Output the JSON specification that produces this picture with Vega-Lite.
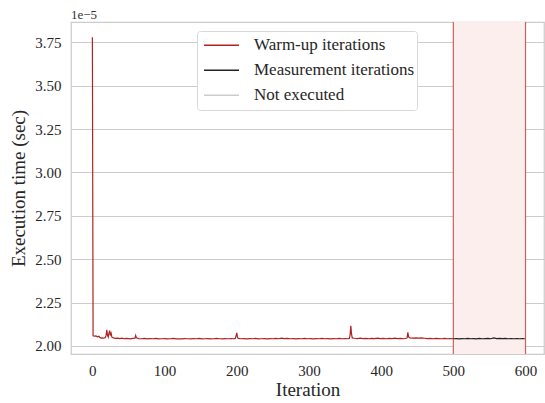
{
  "$schema": "https://vega.github.io/schema/vega-lite/v6.json",
  "width": 473,
  "height": 332,
  "autosize": {"type": "none"},
  "padding": {"left": 71, "top": 22, "right": 1, "bottom": 49},
  "background": "white",
  "title": {"text": "1e\u22125", "anchor": "start", "frame": "group", "font": "Liberation Serif", "fontSize": 13, "fontWeight": "normal", "color": "#333333", "offset": -1},
  "config": {
    "view": {"stroke": "#cccccc", "strokeWidth": 1.25},
    "font": "Liberation Serif",
    "axis": {"labelFont": "Liberation Serif", "titleFont": "Liberation Serif", "labelColor": "#262626", "titleColor": "#262626", "titleFontWeight": "normal", "domain": false, "ticks": false, "gridColor": "#cccccc", "gridWidth": 1},
    "legend": {"labelFont": "Liberation Serif"}
  },
  "datasets": {
    "series": [
      {"it": 0, "t": 3.78, "phase": "Warm-up iterations"},
      {"it": 1, "t": 2.058, "phase": "Warm-up iterations"},
      {"it": 3, "t": 2.056, "phase": "Warm-up iterations"},
      {"it": 5, "t": 2.057, "phase": "Warm-up iterations"},
      {"it": 7, "t": 2.052, "phase": "Warm-up iterations"},
      {"it": 9, "t": 2.055, "phase": "Warm-up iterations"},
      {"it": 10, "t": 2.050, "phase": "Warm-up iterations"},
      {"it": 12, "t": 2.045, "phase": "Warm-up iterations"},
      {"it": 14, "t": 2.046, "phase": "Warm-up iterations"},
      {"it": 16, "t": 2.044, "phase": "Warm-up iterations"},
      {"it": 18, "t": 2.048, "phase": "Warm-up iterations"},
      {"it": 19, "t": 2.060, "phase": "Warm-up iterations"},
      {"it": 20, "t": 2.092, "phase": "Warm-up iterations"},
      {"it": 21, "t": 2.060, "phase": "Warm-up iterations"},
      {"it": 22, "t": 2.050, "phase": "Warm-up iterations"},
      {"it": 23, "t": 2.075, "phase": "Warm-up iterations"},
      {"it": 24, "t": 2.088, "phase": "Warm-up iterations"},
      {"it": 25, "t": 2.060, "phase": "Warm-up iterations"},
      {"it": 26, "t": 2.072, "phase": "Warm-up iterations"},
      {"it": 27, "t": 2.050, "phase": "Warm-up iterations"},
      {"it": 29, "t": 2.046, "phase": "Warm-up iterations"},
      {"it": 32, "t": 2.043, "phase": "Warm-up iterations"},
      {"it": 35, "t": 2.045, "phase": "Warm-up iterations"},
      {"it": 38, "t": 2.042, "phase": "Warm-up iterations"},
      {"it": 41, "t": 2.044, "phase": "Warm-up iterations"},
      {"it": 44, "t": 2.041, "phase": "Warm-up iterations"},
      {"it": 47, "t": 2.043, "phase": "Warm-up iterations"},
      {"it": 50, "t": 2.042, "phase": "Warm-up iterations"},
      {"it": 53, "t": 2.040, "phase": "Warm-up iterations"},
      {"it": 56, "t": 2.043, "phase": "Warm-up iterations"},
      {"it": 59, "t": 2.044, "phase": "Warm-up iterations"},
      {"it": 60, "t": 2.060, "phase": "Warm-up iterations"},
      {"it": 61, "t": 2.046, "phase": "Warm-up iterations"},
      {"it": 64, "t": 2.042, "phase": "Warm-up iterations"},
      {"it": 68, "t": 2.041, "phase": "Warm-up iterations"},
      {"it": 72, "t": 2.043, "phase": "Warm-up iterations"},
      {"it": 76, "t": 2.040, "phase": "Warm-up iterations"},
      {"it": 80, "t": 2.042, "phase": "Warm-up iterations"},
      {"it": 84, "t": 2.041, "phase": "Warm-up iterations"},
      {"it": 88, "t": 2.043, "phase": "Warm-up iterations"},
      {"it": 92, "t": 2.040, "phase": "Warm-up iterations"},
      {"it": 96, "t": 2.041, "phase": "Warm-up iterations"},
      {"it": 100, "t": 2.042, "phase": "Warm-up iterations"},
      {"it": 104, "t": 2.040, "phase": "Warm-up iterations"},
      {"it": 108, "t": 2.041, "phase": "Warm-up iterations"},
      {"it": 112, "t": 2.043, "phase": "Warm-up iterations"},
      {"it": 116, "t": 2.040, "phase": "Warm-up iterations"},
      {"it": 120, "t": 2.041, "phase": "Warm-up iterations"},
      {"it": 124, "t": 2.040, "phase": "Warm-up iterations"},
      {"it": 128, "t": 2.042, "phase": "Warm-up iterations"},
      {"it": 132, "t": 2.041, "phase": "Warm-up iterations"},
      {"it": 136, "t": 2.040, "phase": "Warm-up iterations"},
      {"it": 140, "t": 2.042, "phase": "Warm-up iterations"},
      {"it": 144, "t": 2.041, "phase": "Warm-up iterations"},
      {"it": 148, "t": 2.043, "phase": "Warm-up iterations"},
      {"it": 152, "t": 2.040, "phase": "Warm-up iterations"},
      {"it": 156, "t": 2.041, "phase": "Warm-up iterations"},
      {"it": 160, "t": 2.042, "phase": "Warm-up iterations"},
      {"it": 164, "t": 2.040, "phase": "Warm-up iterations"},
      {"it": 168, "t": 2.041, "phase": "Warm-up iterations"},
      {"it": 172, "t": 2.043, "phase": "Warm-up iterations"},
      {"it": 176, "t": 2.041, "phase": "Warm-up iterations"},
      {"it": 180, "t": 2.040, "phase": "Warm-up iterations"},
      {"it": 184, "t": 2.042, "phase": "Warm-up iterations"},
      {"it": 188, "t": 2.041, "phase": "Warm-up iterations"},
      {"it": 192, "t": 2.042, "phase": "Warm-up iterations"},
      {"it": 196, "t": 2.041, "phase": "Warm-up iterations"},
      {"it": 198, "t": 2.043, "phase": "Warm-up iterations"},
      {"it": 199, "t": 2.058, "phase": "Warm-up iterations"},
      {"it": 200, "t": 2.075, "phase": "Warm-up iterations"},
      {"it": 201, "t": 2.050, "phase": "Warm-up iterations"},
      {"it": 202, "t": 2.043, "phase": "Warm-up iterations"},
      {"it": 206, "t": 2.041, "phase": "Warm-up iterations"},
      {"it": 210, "t": 2.042, "phase": "Warm-up iterations"},
      {"it": 214, "t": 2.040, "phase": "Warm-up iterations"},
      {"it": 218, "t": 2.042, "phase": "Warm-up iterations"},
      {"it": 222, "t": 2.041, "phase": "Warm-up iterations"},
      {"it": 226, "t": 2.043, "phase": "Warm-up iterations"},
      {"it": 230, "t": 2.040, "phase": "Warm-up iterations"},
      {"it": 234, "t": 2.041, "phase": "Warm-up iterations"},
      {"it": 238, "t": 2.042, "phase": "Warm-up iterations"},
      {"it": 242, "t": 2.040, "phase": "Warm-up iterations"},
      {"it": 246, "t": 2.042, "phase": "Warm-up iterations"},
      {"it": 250, "t": 2.041, "phase": "Warm-up iterations"},
      {"it": 254, "t": 2.043, "phase": "Warm-up iterations"},
      {"it": 258, "t": 2.041, "phase": "Warm-up iterations"},
      {"it": 262, "t": 2.044, "phase": "Warm-up iterations"},
      {"it": 266, "t": 2.042, "phase": "Warm-up iterations"},
      {"it": 270, "t": 2.043, "phase": "Warm-up iterations"},
      {"it": 274, "t": 2.041, "phase": "Warm-up iterations"},
      {"it": 278, "t": 2.042, "phase": "Warm-up iterations"},
      {"it": 282, "t": 2.040, "phase": "Warm-up iterations"},
      {"it": 286, "t": 2.042, "phase": "Warm-up iterations"},
      {"it": 290, "t": 2.041, "phase": "Warm-up iterations"},
      {"it": 294, "t": 2.043, "phase": "Warm-up iterations"},
      {"it": 298, "t": 2.041, "phase": "Warm-up iterations"},
      {"it": 302, "t": 2.042, "phase": "Warm-up iterations"},
      {"it": 306, "t": 2.040, "phase": "Warm-up iterations"},
      {"it": 310, "t": 2.042, "phase": "Warm-up iterations"},
      {"it": 314, "t": 2.041, "phase": "Warm-up iterations"},
      {"it": 318, "t": 2.043, "phase": "Warm-up iterations"},
      {"it": 322, "t": 2.041, "phase": "Warm-up iterations"},
      {"it": 326, "t": 2.042, "phase": "Warm-up iterations"},
      {"it": 330, "t": 2.040, "phase": "Warm-up iterations"},
      {"it": 334, "t": 2.042, "phase": "Warm-up iterations"},
      {"it": 338, "t": 2.041, "phase": "Warm-up iterations"},
      {"it": 342, "t": 2.043, "phase": "Warm-up iterations"},
      {"it": 346, "t": 2.041, "phase": "Warm-up iterations"},
      {"it": 350, "t": 2.042, "phase": "Warm-up iterations"},
      {"it": 354, "t": 2.041, "phase": "Warm-up iterations"},
      {"it": 356, "t": 2.043, "phase": "Warm-up iterations"},
      {"it": 357, "t": 2.062, "phase": "Warm-up iterations"},
      {"it": 358, "t": 2.115, "phase": "Warm-up iterations"},
      {"it": 359, "t": 2.068, "phase": "Warm-up iterations"},
      {"it": 360, "t": 2.046, "phase": "Warm-up iterations"},
      {"it": 363, "t": 2.044, "phase": "Warm-up iterations"},
      {"it": 367, "t": 2.042, "phase": "Warm-up iterations"},
      {"it": 371, "t": 2.044, "phase": "Warm-up iterations"},
      {"it": 375, "t": 2.042, "phase": "Warm-up iterations"},
      {"it": 379, "t": 2.043, "phase": "Warm-up iterations"},
      {"it": 383, "t": 2.041, "phase": "Warm-up iterations"},
      {"it": 387, "t": 2.043, "phase": "Warm-up iterations"},
      {"it": 391, "t": 2.042, "phase": "Warm-up iterations"},
      {"it": 395, "t": 2.044, "phase": "Warm-up iterations"},
      {"it": 399, "t": 2.042, "phase": "Warm-up iterations"},
      {"it": 403, "t": 2.043, "phase": "Warm-up iterations"},
      {"it": 407, "t": 2.041, "phase": "Warm-up iterations"},
      {"it": 411, "t": 2.043, "phase": "Warm-up iterations"},
      {"it": 415, "t": 2.042, "phase": "Warm-up iterations"},
      {"it": 419, "t": 2.044, "phase": "Warm-up iterations"},
      {"it": 423, "t": 2.042, "phase": "Warm-up iterations"},
      {"it": 427, "t": 2.043, "phase": "Warm-up iterations"},
      {"it": 431, "t": 2.041, "phase": "Warm-up iterations"},
      {"it": 435, "t": 2.044, "phase": "Warm-up iterations"},
      {"it": 436, "t": 2.046, "phase": "Warm-up iterations"},
      {"it": 437, "t": 2.078, "phase": "Warm-up iterations"},
      {"it": 438, "t": 2.052, "phase": "Warm-up iterations"},
      {"it": 440, "t": 2.046, "phase": "Warm-up iterations"},
      {"it": 444, "t": 2.045, "phase": "Warm-up iterations"},
      {"it": 448, "t": 2.046, "phase": "Warm-up iterations"},
      {"it": 452, "t": 2.045, "phase": "Warm-up iterations"},
      {"it": 456, "t": 2.046, "phase": "Warm-up iterations"},
      {"it": 460, "t": 2.044, "phase": "Warm-up iterations"},
      {"it": 464, "t": 2.042, "phase": "Warm-up iterations"},
      {"it": 468, "t": 2.043, "phase": "Warm-up iterations"},
      {"it": 472, "t": 2.041, "phase": "Warm-up iterations"},
      {"it": 476, "t": 2.043, "phase": "Warm-up iterations"},
      {"it": 480, "t": 2.042, "phase": "Warm-up iterations"},
      {"it": 484, "t": 2.041, "phase": "Warm-up iterations"},
      {"it": 488, "t": 2.043, "phase": "Warm-up iterations"},
      {"it": 492, "t": 2.041, "phase": "Warm-up iterations"},
      {"it": 496, "t": 2.042, "phase": "Warm-up iterations"},
      {"it": 500, "t": 2.041, "phase": "Warm-up iterations"},
      {"it": 500, "t": 2.041, "phase": "Measurement iterations"},
      {"it": 504, "t": 2.042, "phase": "Measurement iterations"},
      {"it": 508, "t": 2.040, "phase": "Measurement iterations"},
      {"it": 512, "t": 2.042, "phase": "Measurement iterations"},
      {"it": 516, "t": 2.041, "phase": "Measurement iterations"},
      {"it": 520, "t": 2.043, "phase": "Measurement iterations"},
      {"it": 524, "t": 2.041, "phase": "Measurement iterations"},
      {"it": 528, "t": 2.042, "phase": "Measurement iterations"},
      {"it": 532, "t": 2.040, "phase": "Measurement iterations"},
      {"it": 536, "t": 2.043, "phase": "Measurement iterations"},
      {"it": 540, "t": 2.041, "phase": "Measurement iterations"},
      {"it": 544, "t": 2.042, "phase": "Measurement iterations"},
      {"it": 548, "t": 2.043, "phase": "Measurement iterations"},
      {"it": 552, "t": 2.041, "phase": "Measurement iterations"},
      {"it": 556, "t": 2.046, "phase": "Measurement iterations"},
      {"it": 560, "t": 2.042, "phase": "Measurement iterations"},
      {"it": 564, "t": 2.043, "phase": "Measurement iterations"},
      {"it": 568, "t": 2.042, "phase": "Measurement iterations"},
      {"it": 572, "t": 2.043, "phase": "Measurement iterations"},
      {"it": 576, "t": 2.041, "phase": "Measurement iterations"},
      {"it": 580, "t": 2.042, "phase": "Measurement iterations"},
      {"it": 584, "t": 2.041, "phase": "Measurement iterations"},
      {"it": 588, "t": 2.042, "phase": "Measurement iterations"},
      {"it": 592, "t": 2.041, "phase": "Measurement iterations"},
      {"it": 596, "t": 2.042, "phase": "Measurement iterations"},
      {"it": 599, "t": 2.041, "phase": "Measurement iterations"}
    ],
    "span": [{"start": 500, "end": 600}],
    "edges": [{"at": 500}, {"at": 600}]
  },
  "layer": [
    {
      "data": {"name": "span"},
      "mark": {"type": "rect", "fill": "#fdeeee"},
      "encoding": {
        "x": {"field": "start", "type": "quantitative", "scale": {"domain": [-29.6, 625.6], "nice": false, "zero": false}},
        "x2": {"field": "end"}
      }
    },
    {
      "data": {"name": "edges"},
      "mark": {"type": "rule", "stroke": "#c96060", "strokeWidth": 1.2},
      "encoding": {
        "x": {"field": "at", "type": "quantitative"}
      }
    },
    {
      "data": {"name": "series"},
      "mark": {"type": "line", "strokeWidth": 1.2, "interpolate": "linear"},
      "encoding": {
        "x": {"field": "it", "type": "quantitative", "scale": {"domain": [-29.6, 625.6], "nice": false, "zero": false},
          "axis": {"title": "Iteration", "values": [0, 100, 200, 300, 400, 500, 600], "grid": false, "labelFontSize": 15, "titleFontSize": 19, "labelPadding": 9, "titlePadding": 2}},
        "y": {"field": "t", "type": "quantitative", "scale": {"domain": [1.953, 3.868], "nice": false, "zero": false},
          "axis": {"title": "Execution time (sec)", "values": [2.0, 2.25, 2.5, 2.75, 3.0, 3.25, 3.5, 3.75], "format": ".2f", "labelFontSize": 15, "titleFontSize": 19, "labelPadding": 10, "titlePadding": 6}},
        "color": {"field": "phase", "type": "nominal",
          "scale": {"domain": ["Warm-up iterations", "Measurement iterations", "Not executed"], "range": ["#b22222", "#222222", "#cccccc"]},
          "legend": {"title": null, "orient": "none", "legendX": 126, "legendY": 9, "symbolType": "stroke", "symbolSize": 1225, "symbolStrokeWidth": 1.4, "symbolOffset": 4, "clipHeight": 24.5, "labelFontSize": 17, "labelColor": "#262626", "strokeColor": "#d8d8d8", "fillColor": "white", "cornerRadius": 3, "padding": 2, "rowPadding": 0, "labelOffset": 14, "labelLimit": 300}}
      }
    }
  ]
}
